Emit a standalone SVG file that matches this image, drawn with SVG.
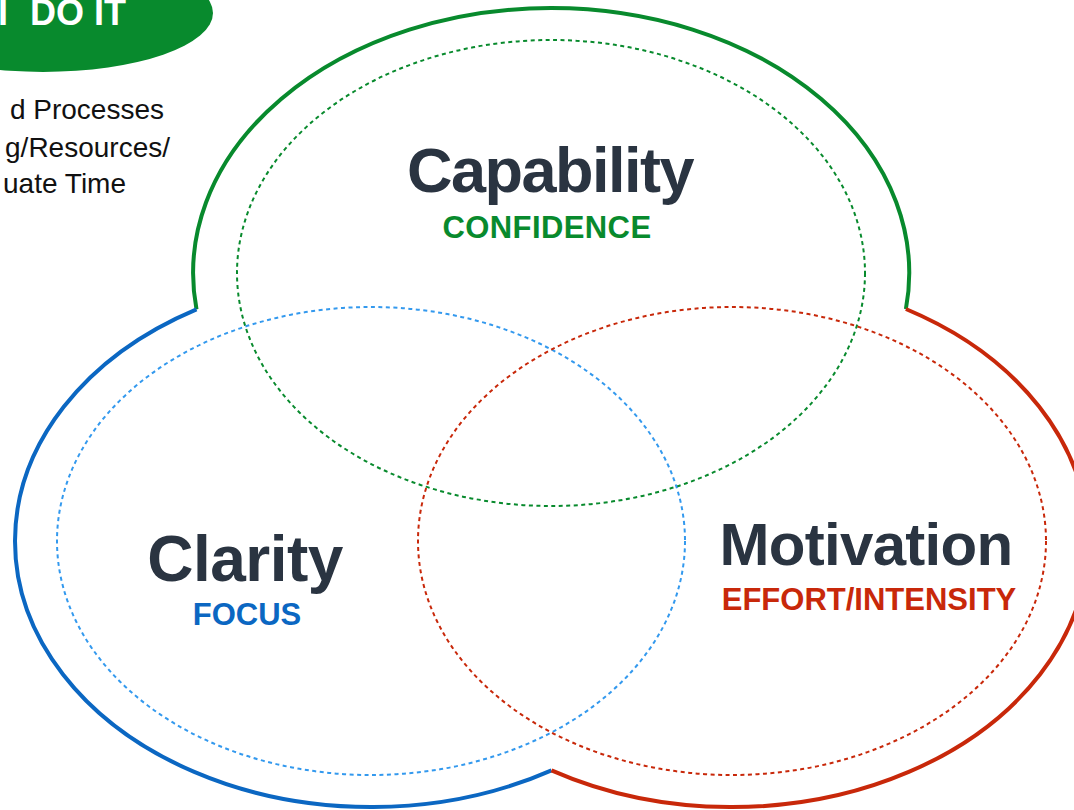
<svg xmlns="http://www.w3.org/2000/svg" width="1074" height="810" viewBox="0 0 1074 810">
<style>
.outer{fill:none;stroke-width:4;stroke-linejoin:miter;}
.dash{fill:none;stroke-width:2;stroke-dasharray:4 3.5;}
.title{font-family:"Liberation Sans",Arial,Helvetica,sans-serif;font-weight:bold;fill:#2A3441;text-anchor:middle;}
.sub{font-family:"Liberation Sans",Arial,Helvetica,sans-serif;font-weight:bold;font-size:31px;text-anchor:middle;}
.note{font-family:"Liberation Sans",Arial,Helvetica,sans-serif;font-size:28px;fill:#111111;text-anchor:end;}
</style>
<rect x="0" y="0" width="1074" height="810" fill="#ffffff"/>

<g id="header">
<ellipse cx="43" cy="13" rx="170" ry="59" fill="#088A2D"/>
<text x="-2" y="25" font-family="Liberation Sans, Arial, sans-serif" font-weight="bold" font-size="36" fill="#ffffff">I<tspan x="30">DO IT</tspan></text>
<text class="note" x="164" y="119">d Processes</text>
<text class="note" x="170" y="157">g/Resources/</text>
<text class="note" x="126" y="193">uate Time</text>
</g>

<g id="connectors">
<path class="outer" stroke="#088A2D" d="M196.5,309.3 A358,265 0 0 1 551,8 A358,265 0 0 1 905.9,309"/>
<path class="outer" stroke="#0B67C2" d="M196.5,309.3 A356,266 0 0 0 15,541 A356,266 0 0 0 551.5,770.3"/>
<path class="outer" stroke="#C8280A" d="M551.5,770.3 A356,266 0 0 0 1088,541 A356,266 0 0 0 905.9,309"/>
</g>

<g id="capability">
<ellipse class="dash" stroke="#088A2D" cx="551" cy="273" rx="314" ry="233"/>
<text class="title" x="550" y="192" font-size="63" letter-spacing="-1.5">Capability</text>
<text class="sub" x="547" y="238" fill="#088A2D" letter-spacing="0.4">CONFIDENCE</text>
</g>

<g id="clarity">
<ellipse class="dash" stroke="#3399EE" cx="371" cy="541" rx="314" ry="234"/>
<text class="title" x="245" y="581" font-size="64" letter-spacing="-0.5">Clarity</text>
<text class="sub" x="247" y="625" fill="#0B67C2">FOCUS</text>
</g>

<g id="motivation">
<ellipse class="dash" stroke="#C8280A" cx="732" cy="541" rx="314" ry="234"/>
<text class="title" x="866" y="565" font-size="60" letter-spacing="-0.7">Motivation</text>
<text class="sub" x="869" y="610" fill="#C8280A" font-size="30.5">EFFORT/INTENSITY</text>
</g>
</svg>
